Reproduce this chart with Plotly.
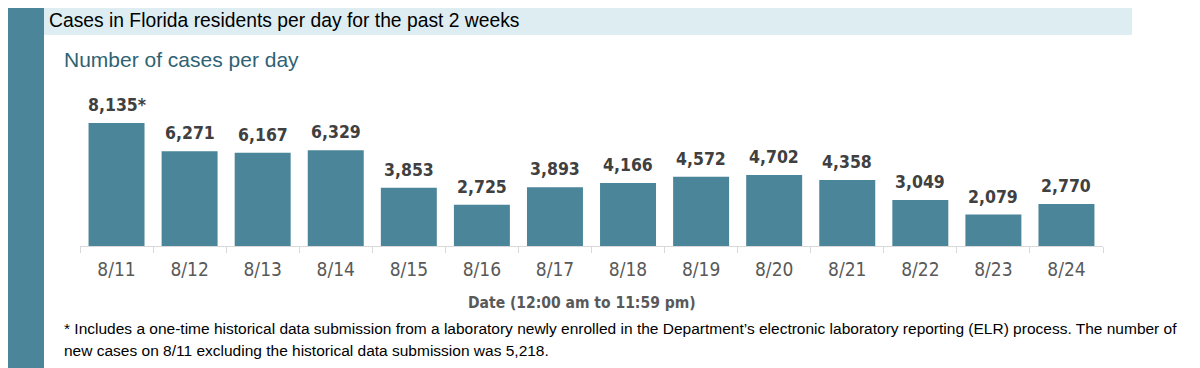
import plotly.graph_objects as go

# The page body adds an 8px margin, so the figure is 8px smaller and every
# reference pixel position is shifted by 8px.
OFF = 8
W, H = 1200 - OFF, 368 - OFF

dates = ["8/11", "8/12", "8/13", "8/14", "8/15", "8/16", "8/17",
         "8/18", "8/19", "8/20", "8/21", "8/22", "8/23", "8/24"]
cases = [8135, 6271, 6167, 6329, 3853, 2725, 3893,
         4166, 4572, 4702, 4358, 3049, 2079, 2770]
labels = ["8,135*", "6,271", "6,167", "6,329", "3,853", "2,725", "3,893",
          "4,166", "4,572", "4,702", "4,358", "3,049", "2,079", "2,770"]

title = "Cases in Florida residents per day for the past 2 weeks"
subtitle = "Number of cases per day"
xtitle = "Date (12:00 am to 11:59 pm)"
foot1 = ("* Includes a one-time historical data submission from a laboratory newly enrolled "
         "in the Department\u2019s electronic laboratory reporting (ELR) process. The number of")
foot2 = "new cases on 8/11 excluding the historical data submission was 5,218."

TEAL = "#4a8599"
NARROW = "DejaVu Sans Condensed, Liberation Sans Narrow, sans-serif"
SANS = "Liberation Sans, Arial, sans-serif"

def px(x):
    return (x - OFF) / W

def py(y):
    return 1 - (y - OFF) / H

fig = go.Figure()
fig.add_trace(go.Bar(x=dates, y=cases, marker=dict(color=TEAL, line=dict(width=0)),
                     hoverinfo="x+y"))

annotations = []
for d, v, t in zip(dates, cases, labels):
    annotations.append(dict(x=d, y=v, xref="x", yref="y", text=t, showarrow=False,
                            yanchor="bottom", yshift=6,
                            font=dict(family=NARROW, size=17.5, color="#404040", weight="bold")))

annotations += [
    dict(x=px(47), y=py(21), xref="paper", yref="paper", text=title, showarrow=False,
         xanchor="left", yanchor="middle", font=dict(family=SANS, size=19.3, color="#000000")),
    dict(x=px(62), y=py(60), xref="paper", yref="paper", text=subtitle, showarrow=False,
         xanchor="left", yanchor="middle", font=dict(family=SANS, size=21, color="#2f6273")),
    dict(x=px(582), y=py(303), xref="paper", yref="paper", text=xtitle, showarrow=False,
         xanchor="center", yanchor="middle",
         font=dict(family=NARROW, size=15.5, color="#595959", weight="bold")),
    dict(x=px(62), y=py(328), xref="paper", yref="paper", text=foot1, showarrow=False,
         xanchor="left", yanchor="middle", font=dict(family=SANS, size=15.5, color="#000000")),
    dict(x=px(62), y=py(350), xref="paper", yref="paper", text=foot2, showarrow=False,
         xanchor="left", yanchor="middle", font=dict(family=SANS, size=15.5, color="#000000")),
]

shapes = [
    dict(type="rect", xref="paper", yref="paper", x0=px(8), x1=px(44), y0=py(368), y1=py(7),
         fillcolor=TEAL, line=dict(width=0), layer="below"),
    dict(type="rect", xref="paper", yref="paper", x0=px(44), x1=px(1132), y0=py(35), y1=py(7),
         fillcolor="#deedf2", line=dict(width=0), layer="below"),
]

fig.update_layout(
    width=W, height=H,
    margin=dict(l=0, r=0, t=0, b=0),
    paper_bgcolor="white", plot_bgcolor="white",
    showlegend=False,
    bargap=0.234,
    annotations=annotations,
    shapes=shapes,
    xaxis=dict(domain=[px(80), px(1103)], automargin=False,
               showline=True, linecolor="#d9d9d9", linewidth=1,
               ticks="outside", tickson="boundaries", ticklen=6, tickcolor="#d9d9d9",
               ticklabelstandoff=6,
               tickfont=dict(family=NARROW, size=19, color="#595959"),
               showgrid=False, zeroline=False, fixedrange=True),
    yaxis=dict(domain=[py(246), py(96)], range=[0, 9920], automargin=False,
               visible=False, showgrid=False, zeroline=False, fixedrange=True),
)

fig.write_html("out.html")
